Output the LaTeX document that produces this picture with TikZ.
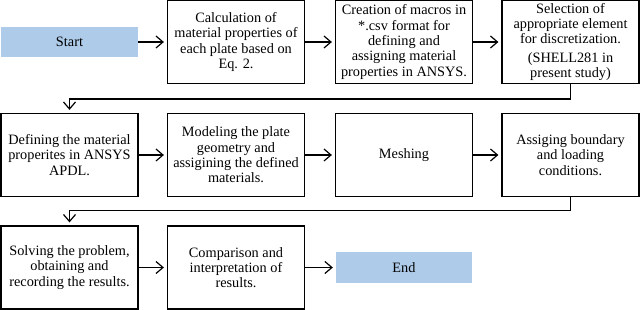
\documentclass[tikz,border=0pt]{standalone}
\usepackage{fontspec}
\setmainfont{Liberation Serif}
\usetikzlibrary{arrows.meta}
\definecolor{termblue}{RGB}{174,203,233}
\tikzset{
  every node/.style={font=\fontsize{14.3pt}{15.3pt}\selectfont},
  procbox/.style={draw=black, line width=1.2pt, minimum width=137pt, minimum height=83pt, align=center, inner sep=2pt},
  termbox/.style={fill=termblue, minimum width=137pt, minimum height=30pt, align=center, inner sep=0pt},
  flow/.style={draw=black, line width=1.2pt, -{Straight Barb[length=7pt,width=12pt,line width=1.2pt]}, shorten >=3pt}
}
\begin{document}
\begin{tikzpicture}[x=1pt,y=-1pt]
\useasboundingbox (0,0) rectangle (640,310);
% row 1
\node[termbox] (start) at (69.5,42) {Start};
\node[procbox] (b2) at (236,42) {Calculation of\\material properties of\\each plate based on\\Eq. 2.};
\node[procbox] (b3) at (404,42) {Creation of macros in\\*.csv format for\\defining and\\assigning material\\properties in ANSYS.};
\node[procbox] (b4) at (570.5,42) {Selection of\\appropriate element\\for discretization.\\[3pt](SHELL281 in\\present study)};
% row 2
\node[procbox] (b5) at (69.5,155) {Defining the material\\properites in ANSYS\\APDL.};
\node[procbox] (b6) at (236,155) {Modeling the plate\\geometry and\\assigining the defined\\materials.};
\node[procbox] (b7) at (404,155) {Meshing};
\node[procbox] (b8) at (570.5,155) {Assiging boundary\\and loading\\conditions.};
% row 3
\node[procbox] (b9) at (69.5,267.5) {Solving the problem,\\obtaining and\\recording the results.};
\node[procbox] (b10) at (236,267.5) {Comparison and\\interpretation of\\results.};
\node[termbox, minimum height=31pt, minimum width=136pt] (end) at (404,267.5) {End};
% connectors
\draw[flow] (start) -- (b2);
\draw[flow] (b2) -- (b3);
\draw[flow] (b3) -- (b4);
\draw[flow] (b4.south) -- ++(0,15) -| (b5.north);
\draw[flow] (b5) -- (b6);
\draw[flow] (b6) -- (b7);
\draw[flow] (b7) -- (b8);
\draw[flow] (b8.south) -- ++(0,13) -| (b9.north);
\draw[flow] (b9) -- (b10);
\draw[flow] (b10) -- (end);
\end{tikzpicture}
\end{document}
